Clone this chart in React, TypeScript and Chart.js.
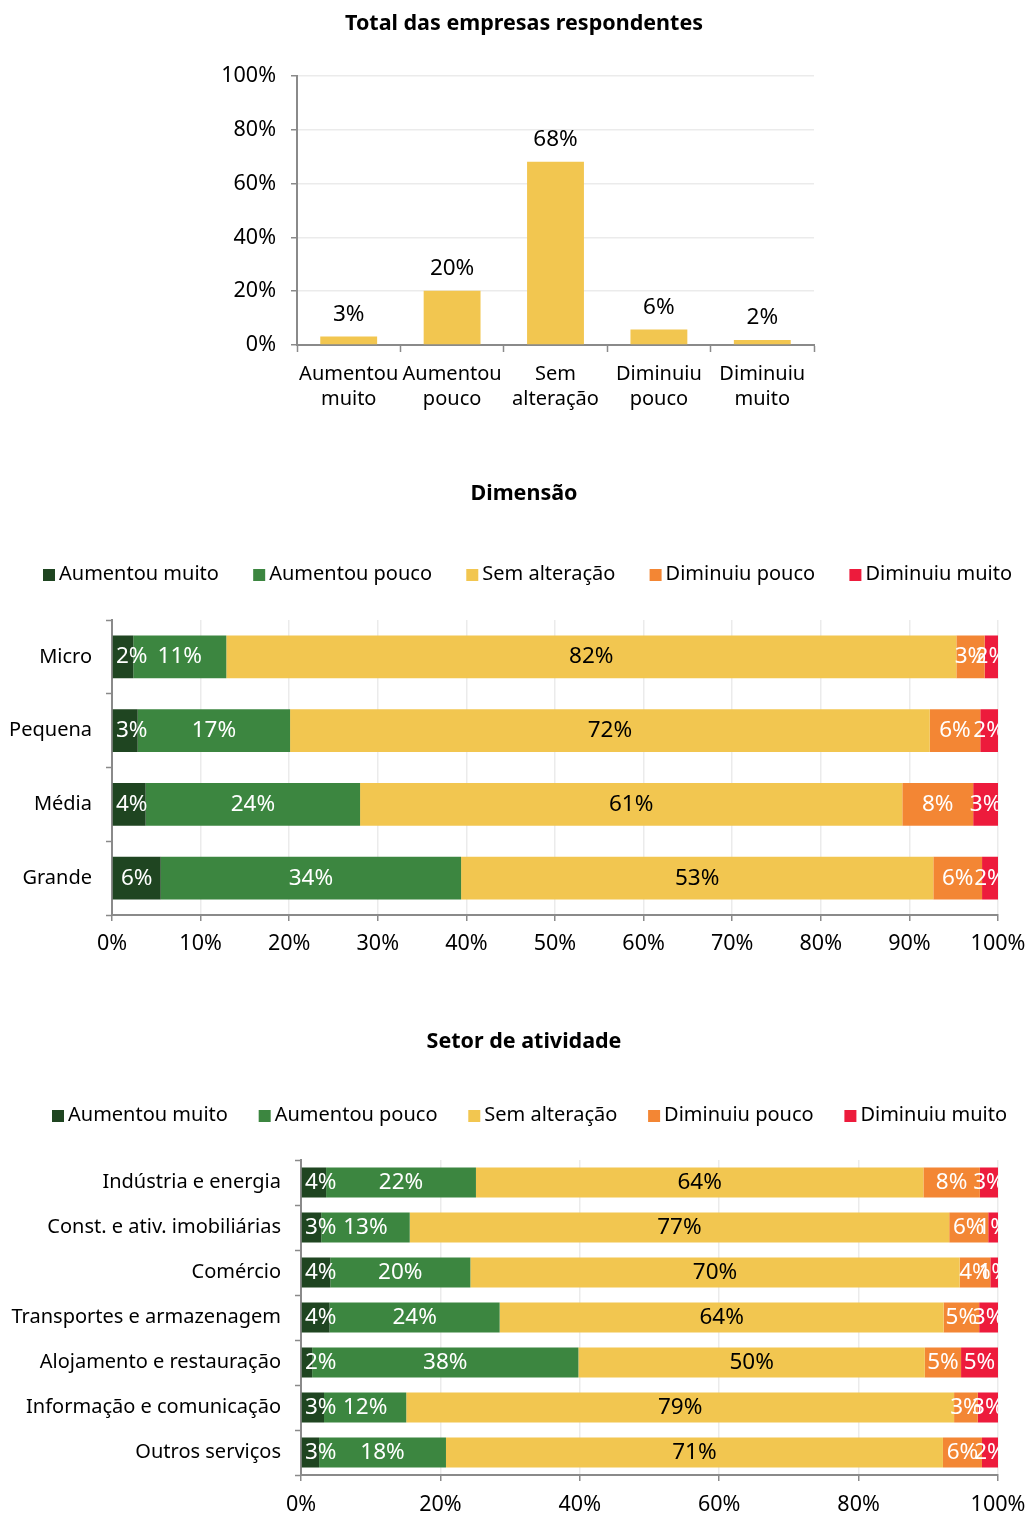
import React, { useEffect, useRef } from 'react';
import { Chart, registerables } from 'chart.js';

Chart.register(...registerables);

const FONT = '"Noto Sans", sans-serif';

// ---------- data ----------
const totalCategories = [
  ['Aumentou', 'muito'],
  ['Aumentou', 'pouco'],
  ['Sem', 'alteração'],
  ['Diminuiu', 'pouco'],
  ['Diminuiu', 'muito'],
];
const totalValues = [3.2, 20.2, 68.1, 5.8, 1.9];

const seriesNames = ['Aumentou muito', 'Aumentou pouco', 'Sem alteração', 'Diminuiu pouco', 'Diminuiu muito'];
const seriesColors = ['#1F4521', '#3C8640', '#F2C650', '#F38634', '#ED1B3C'];
const labelColors = ['#FFFFFF', '#FFFFFF', '#000000', '#FFFFFF', '#FFFFFF'];

const dimCategories = ['Micro', 'Pequena', 'Média', 'Grande'];
const dimAumentouMuito = [2.4, 2.9, 3.8, 5.5];
const dimAumentouPouco = [10.5, 17.2, 24.2, 33.9];
const dimSemAlteracao = [82.4, 72.2, 61.2, 53.3];
const dimDiminuiuPouco = [3.2, 5.7, 8.0, 5.5];
const dimDiminuiuMuito = [1.5, 2.0, 2.8, 1.8];

const setorCategories = [
  'Indústria e energia',
  'Const. e ativ. imobiliárias',
  'Comércio',
  'Transportes e armazenagem',
  'Alojamento e restauração',
  'Informação e comunicação',
  'Outros serviços',
];
const setorAumentouMuito = [3.6, 2.9, 4.2, 4.1, 1.6, 3.3, 2.6];
const setorAumentouPouco = [21.5, 12.7, 20.1, 24.4, 38.2, 11.8, 18.2];
const setorSemAlteracao = [64.2, 77.4, 70.2, 63.7, 49.7, 78.6, 71.3];
const setorDiminuiuPouco = [8.1, 5.6, 4.4, 5.1, 5.2, 3.4, 5.6];
const setorDiminuiuMuito = [2.6, 1.4, 1.1, 2.7, 5.3, 2.9, 2.3];

// ---------- styles ----------
const AXIS = '#8A8A8A';
const GRID = '#EBEBEB';
const NUM_SIZE = 21.5;
const LABEL_SIZE = 22.5;
const TITLE_X = 524;

Chart.defaults.font.family = FONT;
Chart.defaults.font.size = 20;
Chart.defaults.color = '#000000';

const pct = (v: any) => v + '%';

const barLabelPlugin = {
  id: 'barLabels',
  afterDatasetsDraw(chart: any) {
    const { ctx, chartArea } = chart;
    const horizontal = chart.options.indexAxis === 'y';
    ctx.save();
    ctx.beginPath();
    ctx.rect(chartArea.left, chartArea.top - 80, chartArea.right - chartArea.left, chartArea.bottom - chartArea.top + 80);
    ctx.clip();
    ctx.font = `${LABEL_SIZE}px ${FONT}`;
    ctx.textAlign = 'center';
    ctx.textBaseline = 'middle';
    chart.data.datasets.forEach((ds: any, di: number) => {
      const meta = chart.getDatasetMeta(di);
      meta.data.forEach((el: any, i: number) => {
        const v = ds.data[i];
        const { x, y, base } = el.getProps(['x', 'y', 'base'], true);
        const text = Math.round(v) + '%';
        if (horizontal) {
          const w = ctx.measureText(text).width;
          const cx = Math.max((x + base) / 2, chartArea.left + w / 2 + 4);
          ctx.fillStyle = labelColors[di];
          ctx.fillText(text, cx, y);
        } else {
          ctx.fillStyle = '#000000';
          ctx.fillText(text, x, y - 22);
        }
      });
    });
    ctx.restore();
  },
};

const headerPlugin = {
  id: 'header',
  afterDraw(chart: any) {
    const opts = chart.options.plugins.header;
    if (!opts) return;
    const { ctx } = chart;
    ctx.save();
    ctx.textBaseline = 'middle';
    ctx.font = `bold 21.5px ${FONT}`;
    ctx.textAlign = 'center';
    ctx.fillStyle = '#000000';
    ctx.fillText(opts.title, TITLE_X, opts.titleY);
    if (opts.legendY != null) {
      ctx.font = `20px ${FONT}`;
      ctx.textAlign = 'left';
      const boxW = 12;
      const boxGap = 4;
      const items = chart.data.datasets.map((d: any) => ({
        text: d.label,
        color: d.backgroundColor,
        w: boxW + boxGap + ctx.measureText(d.label).width,
      }));
      const sum = items.reduce((s: number, it: any) => s + it.w, 0);
      const gap = (opts.legendEnd - opts.legendStart - sum) / (items.length - 1);
      let x = opts.legendStart;
      items.forEach((it: any) => {
        ctx.fillStyle = it.color;
        ctx.fillRect(x, opts.legendY - 5, boxW, 12);
        ctx.fillStyle = '#000000';
        ctx.fillText(it.text, x + boxW + boxGap, opts.legendY);
        x += it.w + gap;
      });
    }
    ctx.restore();
  },
};

const rightPad = (w: number) => ({
  type: 'linear',
  position: 'right',
  display: true,
  grid: { display: false, drawTicks: false },
  ticks: { display: false },
  border: { display: false },
  afterFit: (s: any) => { s.width = w; s.paddingTop = 0; s.paddingBottom = 0; },
});

function totalConfig(): any {
  return {
    type: 'bar',
    data: {
      labels: totalCategories,
      datasets: [
        {
          label: 'Total',
          data: totalValues,
          backgroundColor: seriesColors[2],
          categoryPercentage: 1,
          barPercentage: 0.55,
          xAxisID: 'x',
          yAxisID: 'y',
        },
      ],
    },
    options: {
      animation: false,
      responsive: false,
      layout: { padding: { left: 0, right: 0, top: 76, bottom: 0 } },
      plugins: {
        legend: { display: false },
        tooltip: { enabled: false },
        title: { display: false },
        header: { title: 'Total das empresas respondentes', titleY: 24 },
      },
      scales: {
        x: {
          afterFit: (s: any) => { s.height = 95; s.paddingLeft = 0; s.paddingRight = 0; },
          grid: { display: true, drawOnChartArea: false, offset: true, tickLength: 7, tickColor: AXIS, tickWidth: 1.5 },
          border: { color: AXIS, width: 2 },
          ticks: { font: { size: 20, lineHeight: 1.25 }, padding: 10, color: '#000000', maxRotation: 0, autoSkip: false },
        },
        y: {
          min: 0,
          max: 100,
          afterFit: (s: any) => { s.width = 297; s.paddingTop = 0; s.paddingBottom = 0; },
          grid: { color: GRID, lineWidth: 1.5, tickLength: 6, tickColor: AXIS },
          border: { color: AXIS, width: 2 },
          ticks: { stepSize: 20, callback: pct, font: { size: NUM_SIZE }, padding: 15, color: '#000000' },
        },
        pad: rightPad(213),
      },
    },
    plugins: [barLabelPlugin, headerPlugin],
  };
}

function stackedConfig(
  title: string,
  categories: string[],
  series: number[][],
  o: {
    titleY: number; areaTop: number; legendY: number; legendStart: number; legendEnd: number;
    yWidth: number; xHeight: number; step: number; barPct: number; xPad: number;
  },
): any {
  return {
    type: 'bar',
    data: {
      labels: categories,
      datasets: series.map((d, i) => ({
        label: seriesNames[i],
        data: d,
        backgroundColor: seriesColors[i],
        categoryPercentage: 1,
        barPercentage: o.barPct,
        xAxisID: 'x',
        yAxisID: 'y',
      })),
    },
    options: {
      animation: false,
      responsive: false,
      indexAxis: 'y',
      layout: { padding: { left: 0, right: 0, top: o.areaTop, bottom: 0 } },
      plugins: {
        legend: { display: false },
        tooltip: { enabled: false },
        title: { display: false },
        header: { title, titleY: o.titleY, legendY: o.legendY, legendStart: o.legendStart, legendEnd: o.legendEnd },
      },
      scales: {
        x: {
          stacked: true,
          min: 0,
          max: 100,
          afterFit: (s: any) => { s.height = o.xHeight; s.paddingLeft = 0; s.paddingRight = 0; },
          grid: { color: GRID, lineWidth: 1.5, tickLength: 6, tickColor: AXIS },
          border: { color: AXIS, width: 2 },
          ticks: { stepSize: o.step, callback: pct, font: { size: NUM_SIZE }, padding: o.xPad, color: '#000000', maxRotation: 0 },
        },
        y: {
          stacked: true,
          afterFit: (s: any) => { s.width = o.yWidth; s.paddingTop = 0; s.paddingBottom = 0; },
          grid: { display: true, drawOnChartArea: false, offset: true, tickLength: 6, tickColor: AXIS, tickWidth: 1.5 },
          border: { color: AXIS, width: 2 },
          ticks: { font: { size: 20 }, padding: 14, color: '#000000', autoSkip: false },
        },
        pad: rightPad(29),
      },
    },
    plugins: [barLabelPlugin, headerPlugin],
  };
}

function ChartBox({ top, height, config }: { top: number; height: number; config: () => any }) {
  const ref = useRef<HTMLCanvasElement>(null);
  useEffect(() => {
    const chart = new Chart(ref.current as HTMLCanvasElement, config());
    return () => chart.destroy();
  }, []);
  return (
    <div style={{ position: 'absolute', left: 0, top, width: 1027, height }}>
      <canvas ref={ref} width={1027} height={height} style={{ display: 'block', width: 1027, height }} />
    </div>
  );
}

export default function App() {
  return (
    <div style={{ position: 'absolute', left: 0, top: 0, width: 1027, height: 1515, background: '#FFFFFF', overflow: 'hidden' }}>
      <ChartBox top={0} height={440} config={totalConfig} />
      <ChartBox
        top={440}
        height={540}
        config={() =>
          stackedConfig(
            'Dimensão',
            dimCategories,
            [dimAumentouMuito, dimAumentouPouco, dimSemAlteracao, dimDiminuiuPouco, dimDiminuiuMuito],
            { titleY: 54, areaTop: 180, legendY: 134, legendStart: 43, legendEnd: 1012, yWidth: 112, xHeight: 65, step: 10, barPct: 0.58, xPad: 10 },
          )
        }
      />
      <ChartBox
        top={980}
        height={535}
        config={() =>
          stackedConfig(
            'Setor de atividade',
            setorCategories,
            [setorAumentouMuito, setorAumentouPouco, setorSemAlteracao, setorDiminuiuPouco, setorDiminuiuMuito],
            { titleY: 62, areaTop: 180, legendY: 135, legendStart: 52, legendEnd: 1007, yWidth: 301, xHeight: 40, step: 20, barPct: 0.667, xPad: 11 },
          )
        }
      />
    </div>
  );
}
